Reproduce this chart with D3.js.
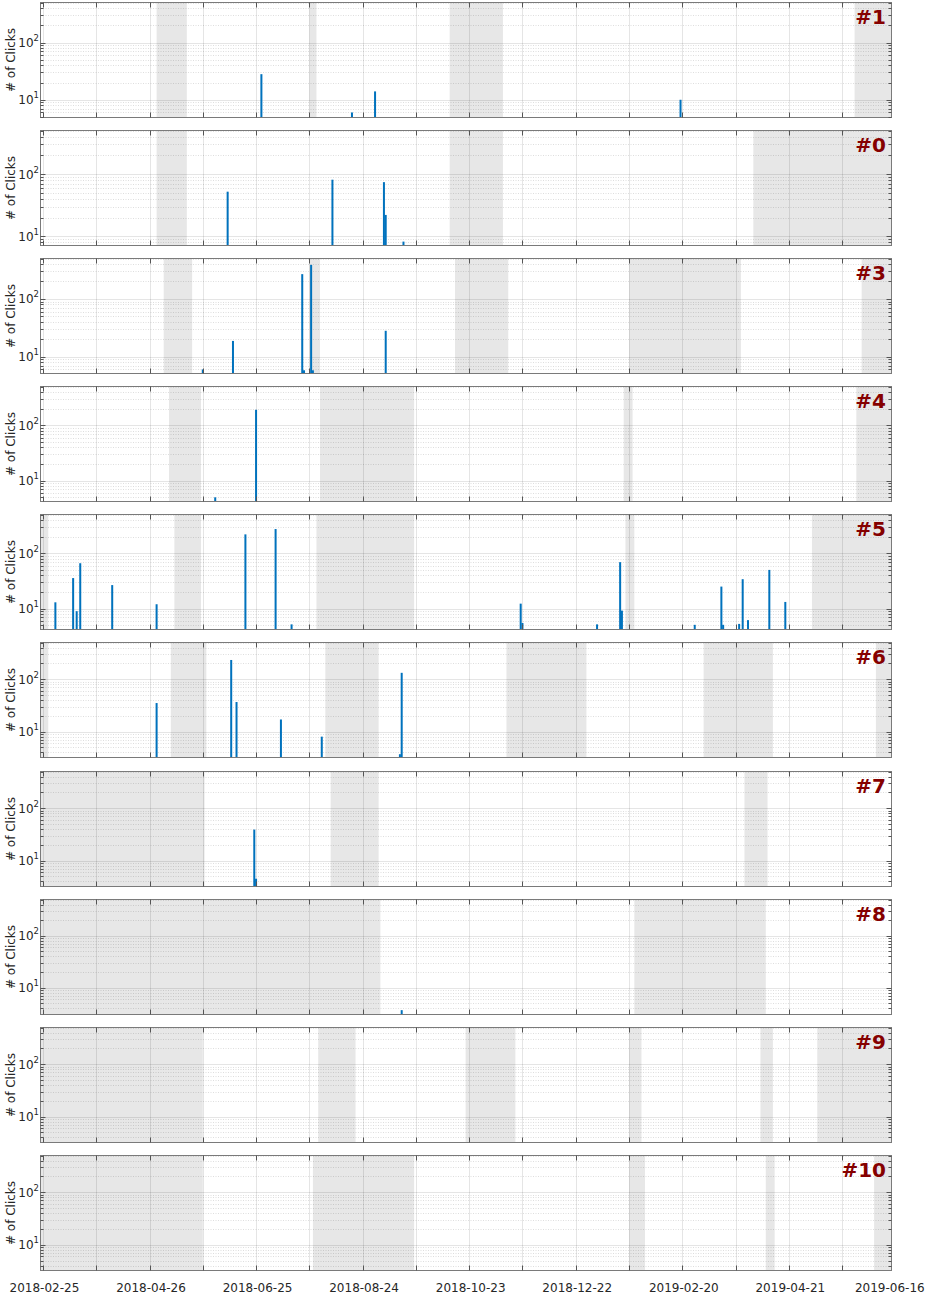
<!DOCTYPE html>
<html>
<head>
<meta charset="utf-8">
<script src="https://cdnjs.cloudflare.com/ajax/libs/d3/7.8.5/d3.min.js"></script>
<style>
  body { margin: 0; background: #fff; }
  svg { display: block; font-family: "DejaVu Sans", sans-serif; }
</style>
</head>
<body>
<div id="chart"></div>
<script>
const parse = d3.timeParse("%Y-%m-%d");
const parseT = d3.timeParse("%Y-%m-%d %H:%M");

// panel order top to bottom
const panelNames = ["#1", "#0", "#3", "#4", "#5", "#6", "#7", "#8", "#9", "#10"];
const yMins = [4.9, 7.1, 5.1, 4.2, 4.2, 3.2, 3.2, 3.05, 3.2, 3.25];
const yMax = 500;

const xTickLabels = ["2018-02-25", "2018-04-26", "2018-06-25", "2018-08-24", "2018-10-23",
                     "2018-12-22", "2019-02-20", "2019-04-21", "2019-06-16"];

// clicks per day: [date, count]
const clicks1 = [["2018-06-28", 28], ["2018-08-18", 6], ["2018-08-31", 14], ["2019-02-19", 10]];
const clicks0 = [["2018-06-09", 52], ["2018-08-07", 81], ["2018-09-05", 74], ["2018-09-06", 22], ["2018-09-16", 8.2]];
const clicks3 = [["2018-05-26", 6], ["2018-06-12", 18.7], ["2018-07-21", 268], ["2018-07-22", 5.8],
                 ["2018-07-26", 388], ["2018-07-27", 5.8], ["2018-09-06", 28]];
const clicks4 = [["2018-06-02", 5], ["2018-06-25", 190]];
const clicks5 = [["2018-03-04", 13], ["2018-03-14", 35.6], ["2018-03-16", 9], ["2018-03-18", 66],
                 ["2018-04-05", 26.6], ["2018-04-30", 12], ["2018-06-19", 219], ["2018-07-06", 273],
                 ["2018-07-15", 5.2], ["2018-11-21", 12.3], ["2018-11-22", 5.5], ["2019-01-03", 5.2],
                 ["2019-01-16", 69], ["2019-01-17", 9.2], ["2019-02-27", 5.1], ["2019-03-14", 25],
                 ["2019-03-15", 5.1], ["2019-03-24", 5.3], ["2019-03-26", 34], ["2019-03-29", 6.2],
                 ["2019-04-10", 50], ["2019-04-19", 13.2]];
const clicks6 = [["2018-04-30", 35], ["2018-06-11", 232], ["2018-06-14", 36.6], ["2018-07-09", 17],
                 ["2018-08-01", 8], ["2018-09-14", 3.7], ["2018-09-15", 132]];
const clicks7 = [["2018-06-24", 39], ["2018-06-25", 4.5]];
const clicks8 = [["2018-09-15", 3.7]];
const clicks9 = [];
const clicks10 = [];

// grey (offline) periods: [start, end]
const off1 = [["2018-04-30", "2018-05-17"], ["2018-07-25", "2018-07-29"], ["2018-10-12", "2018-11-11"], ["2019-05-28", "2019-06-20"]];
const off0 = [["2018-04-30", "2018-05-17"], ["2018-10-12", "2018-11-11"], ["2019-04-01", "2019-06-20"]];
const off3 = [["2018-05-04", "2018-05-20"], ["2018-07-25", "2018-07-31"], ["2018-10-15", "2018-11-14"],
              ["2019-01-21", "2019-03-25"], ["2019-06-01", "2019-06-20"]];
const off4 = [["2018-05-07", "2018-05-25"], ["2018-07-31", "2018-09-22"], ["2019-01-18", "2019-01-23"], ["2019-05-29", "2019-06-20"]];
const off5 = [["2018-02-20", "2018-02-28"], ["2018-05-10", "2018-05-25"], ["2018-07-29", "2018-09-22"],
              ["2019-01-19", "2019-01-24"], ["2019-05-04", "2019-06-20"]];
const off6 = [["2018-02-20", "2018-02-28"], ["2018-05-08", "2018-05-28"], ["2018-08-03", "2018-09-02"],
              ["2018-11-13", "2018-12-28"], ["2019-03-04", "2019-04-12"], ["2019-06-09", "2019-06-20"]];
const off7 = [["2018-02-20", "2018-05-27"], ["2018-08-06", "2018-09-02"], ["2019-03-27", "2019-04-09"]];
const off8 = [["2018-02-20", "2018-09-03"], ["2019-01-24", "2019-04-08"]];
const off9 = [["2018-02-20", "2018-05-26"], ["2018-07-30", "2018-08-20"], ["2018-10-21", "2018-11-18"],
              ["2019-01-21", "2019-01-28"], ["2019-04-05", "2019-04-12"], ["2019-05-07", "2019-06-20"]];
const off10 = [["2018-02-20", "2018-05-26"], ["2018-07-27", "2018-09-22"], ["2019-01-21", "2019-01-30"],
               ["2019-04-08", "2019-04-13"], ["2019-06-08", "2019-06-20"]];

const allClicks = [clicks1, clicks0, clicks3, clicks4, clicks5, clicks6, clicks7, clicks8, clicks9, clicks10];
const allOff = [off1, off0, off3, off4, off5, off6, off7, off8, off9, off10];

const W = 927, H = 1293;
const left = 40.5, right = 891.5;
const top0 = 1.7, pitch = 128.15, ph = 115;

const svg = d3.select("#chart").append("svg").attr("width", W).attr("height", H);

const x = d3.scaleTime()
    .domain([parseT("2018-02-23 15:00"), parseT("2019-06-17 19:00")])
    .range([left, right]);

// grid every 30 days from first label
const gridDates = d3.range(0, 480, 30)
    .map(i => d3.timeDay.offset(parse("2018-02-25"), i))
    .filter(d => d < x.domain()[1]);

const px = v => Math.round(v) + 0.5;

panelNames.forEach((name, i) => {
    const top = Math.round(top0 + i * pitch) + 0.5;
    const bottom = top + ph;
    const y = d3.scaleLog().domain([yMins[i], yMax]).range([bottom, top]);

    const g = svg.append("g");
    g.append("clipPath").attr("id", "clip" + i)
     .append("rect").attr("x", left).attr("y", top).attr("width", right - left).attr("height", ph);
    const inner = g.append("g").attr("clip-path", `url(#clip${i})`);

    // shaded periods
    inner.selectAll("rect.off").data(allOff[i]).join("rect")
        .attr("class", "off")
        .attr("x", d => x(parse(d[0])))
        .attr("width", d => x(parse(d[1])) - x(parse(d[0])))
        .attr("y", top).attr("height", ph)
        .attr("fill", "#e7e7e7");

    // log ticks
    const yt = [];
    for (let k = 0; k <= 2; k++) {
        for (let m = 1; m <= 9; m++) {
            const v = m * Math.pow(10, k);
            if (v >= yMins[i] && v <= yMax) yt.push({ v, major: m === 1 });
        }
    }

    inner.selectAll("line.ymin").data(yt.filter(d => !d.major)).join("line")
        .attr("x1", left).attr("x2", right)
        .attr("y1", d => px(y(d.v))).attr("y2", d => px(y(d.v)))
        .attr("stroke", "rgba(0,0,0,0.13)").attr("stroke-dasharray", "1,1.5");

    inner.selectAll("line.ymaj").data(yt.filter(d => d.major)).join("line")
        .attr("x1", left).attr("x2", right)
        .attr("y1", d => px(y(d.v))).attr("y2", d => px(y(d.v)))
        .attr("stroke", "rgba(0,0,0,0.1)");

    inner.selectAll("line.xg").data(gridDates).join("line")
        .attr("x1", d => px(x(d))).attr("x2", d => px(x(d)))
        .attr("y1", top).attr("y2", bottom)
        .attr("stroke", "rgba(0,0,0,0.1)");

    // bars
    inner.selectAll("rect.bar").data(allClicks[i]).join("rect")
        .attr("class", "bar")
        .attr("x", d => x(parse(d[0])) - 1)
        .attr("width", 2)
        .attr("y", d => y(d[1]))
        .attr("height", d => bottom - y(d[1]))
        .attr("fill", "#0072BD");

    // box
    g.append("rect").attr("x", left).attr("y", top).attr("width", right - left).attr("height", ph)
        .attr("fill", "none").attr("stroke", "#7a7a7a");

    // x ticks top and bottom (inward)
    g.selectAll("line.xt").data(gridDates).join("line")
        .attr("x1", d => px(x(d))).attr("x2", d => px(x(d)))
        .attr("y1", bottom).attr("y2", bottom - 5)
        .attr("stroke", "#555");
    g.selectAll("line.xtt").data(gridDates).join("line")
        .attr("x1", d => px(x(d))).attr("x2", d => px(x(d)))
        .attr("y1", top).attr("y2", top + 5)
        .attr("stroke", "#555");

    // y ticks left and right
    [left, right].forEach((ex, side) => {
        const dir = side === 0 ? 1 : -1;
        g.selectAll("line.yt" + side).data(yt).join("line")
            .attr("x1", ex).attr("x2", d => ex + dir * (d.major ? 5 : 3))
            .attr("y1", d => px(y(d.v))).attr("y2", d => px(y(d.v)))
            .attr("stroke", "#555");
    });

    // y tick labels 10^k
    const labs = g.selectAll("text.yl").data(yt.filter(d => d.major)).join("text")
        .attr("x", 39).attr("y", d => y(d.v) + 4.5)
        .attr("text-anchor", "end")
        .attr("font-size", 12).attr("fill", "#262626");
    labs.append("tspan").text("10");
    labs.append("tspan").attr("dy", -6).attr("font-size", 8.5).text(d => Math.round(Math.log10(d.v)));

    // y axis title
    g.append("text")
        .attr("transform", `translate(14.5,${(top + bottom) / 2}) rotate(-90)`)
        .attr("text-anchor", "middle")
        .attr("font-size", 12).attr("fill", "#262626")
        .text("# of Clicks");

    // panel name
    g.append("text")
        .attr("x", 886).attr("y", top + 21.5)
        .attr("text-anchor", "end")
        .attr("font-size", 20).attr("font-weight", "bold")
        .attr("fill", "#850000")
        .text(name);

    if (i === panelNames.length - 1) {
        g.selectAll("text.xl").data(xTickLabels).join("text")
            .attr("x", d => x(parse(d)) + 1.5)
            .attr("y", bottom + 21)
            .attr("text-anchor", "middle")
            .attr("font-size", 12).attr("fill", "#262626")
            .text(d => d);
    }
});
</script>
</body>
</html>
